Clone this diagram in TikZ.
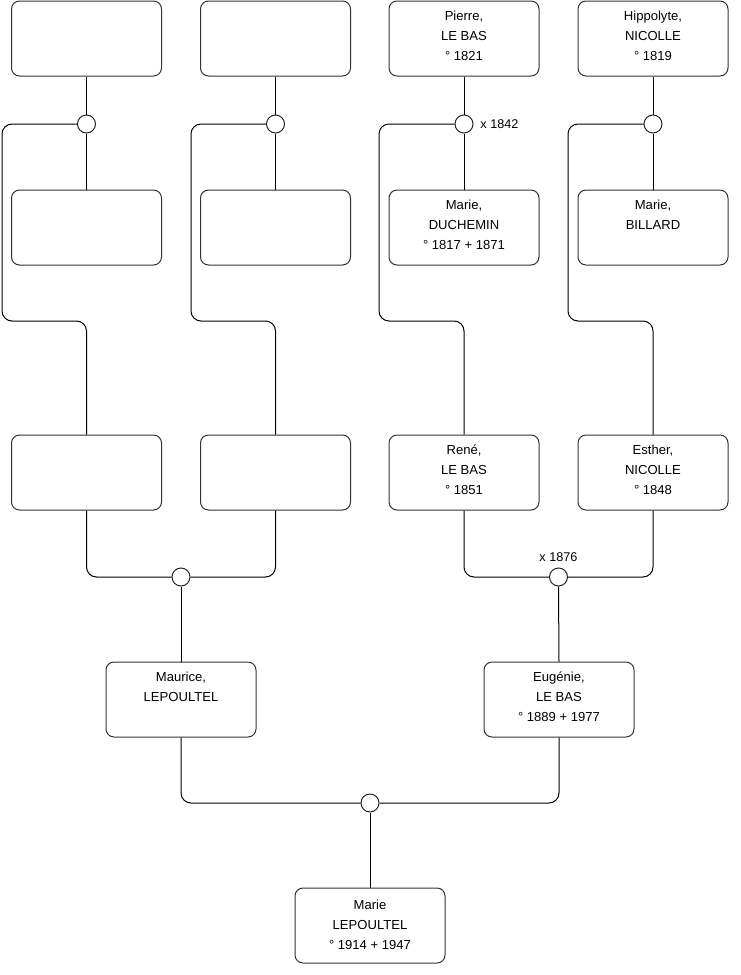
\documentclass[tikz,border=0pt]{standalone}
\usepackage{fontspec}
\setmainfont{Liberation Sans}
\begin{document}
\begin{tikzpicture}[x=0.75pt,y=-0.75pt,
  famb/.style={draw=black!80, line width=0.75pt, rounded corners=6pt, minimum width=112.5pt, minimum height=56.25pt, inner sep=0pt},
  txt/.style={anchor=north, align=center, inner sep=0pt, font=\fontsize{9.8}{15}\selectfont},
  knot/.style={circle, draw=black!85, line width=0.75pt, fill=white, minimum size=13.5pt, inner sep=0pt},
  link/.style={draw=black, line width=0.75pt, rounded corners=7.5pt},
  lbl/.style={inner sep=0pt, font=\fontsize{9.5}{11}\selectfont}]
\useasboundingbox (0,0) rectangle (740,975);
% row 1
\node[famb] (a1) at (86.5,38.5) {};
\node[famb] (a2) at (275.5,38.5) {};
\node[famb] (a3) at (464,38.5) {};
\node[famb] (a4) at (653,38.5) {};
% row 2
\node[famb] (b1) at (86.5,227.5) {};
\node[famb] (b2) at (275.5,227.5) {};
\node[famb] (b3) at (464,227.5) {};
\node[famb] (b4) at (653,227.5) {};
% row 3
\node[famb] (c1) at (86.5,472.5) {};
\node[famb] (c2) at (275.5,472.5) {};
\node[famb] (c3) at (464,472.5) {};
\node[famb] (c4) at (653,472.5) {};
% row 4
\node[famb] (d1) at (181,699.5) {};
\node[famb] (d2) at (559,699.5) {};
% row 5
\node[famb] (e1) at (370,925.5) {};
% texts
\node[txt] (a3t) at ([yshift=-4pt]a3.north) {\strut Pierre,\\LE BAS\\° 1821};
\node[txt] (a4t) at ([yshift=-4pt]a4.north) {\strut Hippolyte,\\NICOLLE\\° 1819};
\node[txt] (b3t) at ([yshift=-4pt]b3.north) {\strut Marie,\\DUCHEMIN\\° 1817 + 1871};
\node[txt] (b4t) at ([yshift=-4pt]b4.north) {\strut Marie,\\BILLARD};
\node[txt] (c3t) at ([yshift=-4pt]c3.north) {\strut René,\\LE BAS\\° 1851};
\node[txt] (c4t) at ([yshift=-4pt]c4.north) {\strut Esther,\\NICOLLE\\° 1848};
\node[txt] (d1t) at ([yshift=-4pt]d1.north) {\strut Maurice,\\LEPOULTEL};
\node[txt] (d2t) at ([yshift=-4pt]d2.north) {\strut Eugénie,\\LE BAS\\° 1889 + 1977};
\node[txt] (e1t) at ([yshift=-6pt]e1.north) {\strut Marie\\LEPOULTEL\\° 1914 + 1947};
% knots
\node[knot] (k1) at (86.5,124) {};
\node[knot] (k2) at (275.5,124) {};
\node[knot] (k3) at (464,124) {};
\node[knot] (k4) at (653,124) {};
\node[knot] (k5) at (181,577) {};
\node[knot] (k6) at (558.5,577) {};
\node[knot] (k7) at (370,803) {};
% labels
\node[lbl, anchor=west] (l1) at ([xshift=5pt]k3.east) {x 1842};
\node[lbl, anchor=south] (l2) at ([yshift=4pt]k6.north) {x 1876};
% connectors top
\foreach \i in {1,2,3,4} {
  \draw[link] (a\i.south) -- (k\i.north);
  \draw[link] (k\i.south) -- (b\i.north);
}
\draw[link] (k1.west) -| (2,321) -| (c1.north);
\draw[link] (k2.west) -| (191,321) -| (c2.north);
\draw[link] (k3.west) -| (379,321) -| (c3.north);
\draw[link] (k4.west) -| (568,321) -| (c4.north);
% middle
\draw[link] (c1.south) |- (k5.west);
\draw[link] (c2.south) |- (k5.east);
\draw[link] (c3.south) |- (k6.west);
\draw[link] (c4.south) |- (k6.east);
\draw[link] (k5.south) -- (d1.north);
\draw[link] (k6.south) -- (d2.north);
% bottom
\draw[link] (d1.south) |- (k7.west);
\draw[link] (d2.south) |- (k7.east);
\draw[link] (k7.south) -- (e1.north);
\end{tikzpicture}
\end{document}
